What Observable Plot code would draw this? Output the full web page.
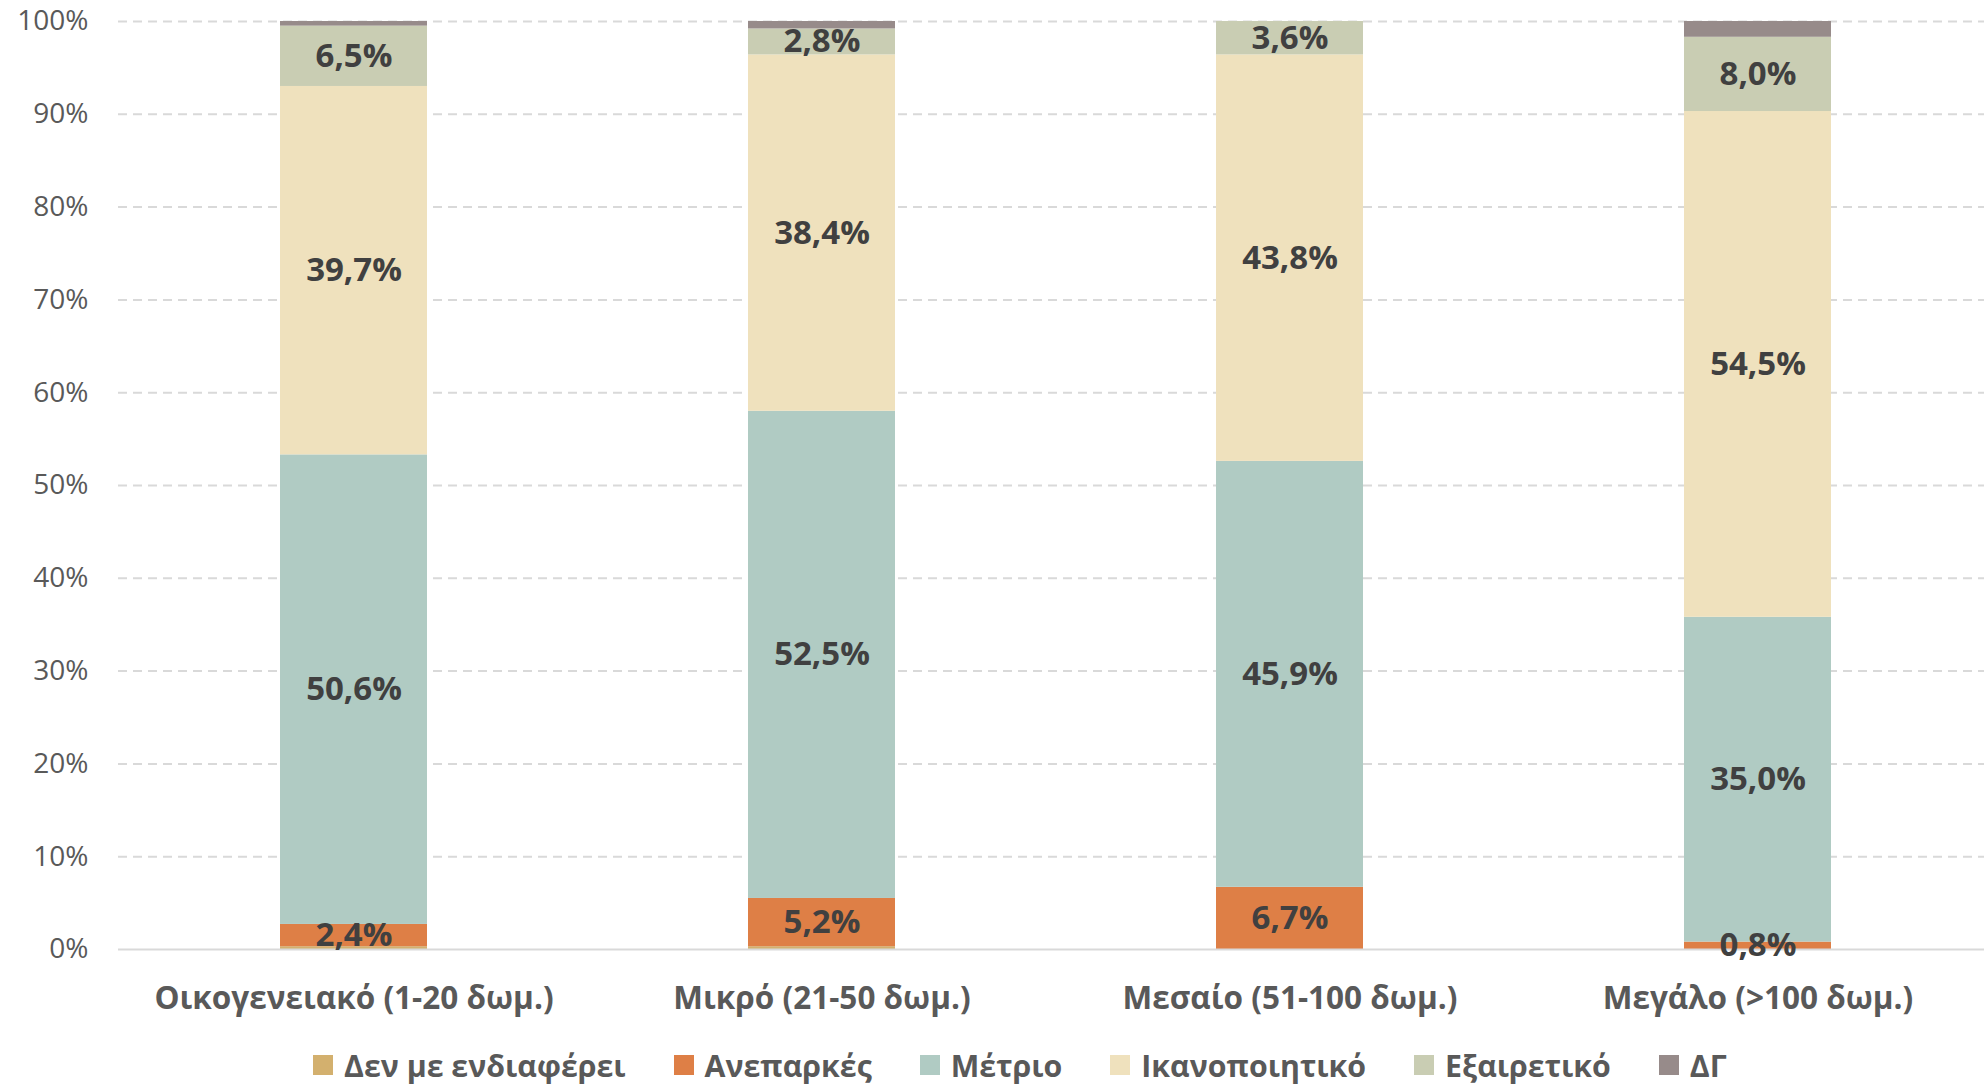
<!DOCTYPE html>
<html>
<head>
<meta charset="utf-8">
<script src="https://cdn.jsdelivr.net/npm/d3@7"></script>
<script src="https://cdn.jsdelivr.net/npm/@observablehq/plot@0.6"></script>
<style>
  html, body { margin: 0; padding: 0; background: #fff; }
  #chart { width: 1984px; overflow: hidden; }
  .legend { display: flex; align-items: center; justify-content: flex-start; padding-left: 313px; gap: 48px; height: 40px;
    font-family: "Open Sans", sans-serif; font-weight: bold; font-size: 30.3px; color: #595959; }
  .legend .item { display: flex; align-items: center; gap: 11px; }
  .legend .sw { width: 20px; height: 20px; display: inline-block; }
</style>
</head>
<body>
<div id="chart"></div>
<script>
const categories = ["Οικογενειακό (1-20 δωμ.)", "Μικρό (21-50 δωμ.)", "Μεσαίο (51-100 δωμ.)", "Μεγάλο (>100 δωμ.)"];
const series = ["Δεν με ενδιαφέρει", "Ανεπαρκές", "Μέτριο", "Ικανοποιητικό", "Εξαιρετικό", "ΔΓ"];
const colors = ["#D3B06E", "#DE7F46", "#B0CBC3", "#EFE1BD", "#C9CDB3", "#978B8A"];
const denMeEndiaferei = [0.3, 0.3, 0.0, 0.0];
const aneparkes = [2.4, 5.2, 6.7, 0.8];
const metrio = [50.6, 52.5, 45.9, 35.0];
const ikanopoiitiko = [39.7, 38.4, 43.8, 54.5];
const exairetiko = [6.5, 2.8, 3.6, 8.0];
const dg = [0.5, 0.8, 0.0, 1.7];
const labelledSeries = ["Ανεπαρκές", "Μέτριο", "Ικανοποιητικό", "Εξαιρετικό"];
const yTicks = [0, 10, 20, 30, 40, 50, 60, 70, 80, 90, 100];

const seriesValues = [denMeEndiaferei, aneparkes, metrio, ikanopoiitiko, exairetiko, dg];
const rows = [];
categories.forEach((c, i) => {
  series.forEach((s, j) => rows.push({cat: c, series: s, value: seriesValues[j][i]}));
});
const fmt = v => v.toFixed(1).replace(".", ",") + "%";

const plot = Plot.plot({
  width: 1984,
  height: 1045,
  marginLeft: 118,
  marginRight: 0,
  marginTop: 21,
  marginBottom: 96,
  style: {fontFamily: "Open Sans, sans-serif", fontSize: "28px", color: "#595959", background: "#fff", overflow: "visible"},
  x: {domain: categories, paddingInner: 0.686, paddingOuter: 0.343, range: [118, 1992], label: null},
  y: {domain: [0, 100], label: null},
  color: {domain: series, range: colors},
  marks: [
    Plot.ruleY(yTicks.filter(d => d > 0), {stroke: "#d9d9d9", strokeWidth: 2, strokeDasharray: "9,6"}),
    Plot.barY(rows, Plot.stackY({x: "cat", y: "value", z: "series", fill: "series", order: series})),
    Plot.ruleY([0], {stroke: "#d9d9d9", strokeWidth: 2}),
    Plot.text(rows, Plot.stackY({
      x: "cat", y: "value", z: "series", order: series,
      text: d => labelledSeries.includes(d.series) ? fmt(d.value) : null,
      fill: "#404040", fontWeight: "bold", fontSize: 33, fontFamily: "Open Sans, sans-serif"
    })),
    Plot.axisY({ticks: yTicks, tickFormat: d => d + "%", tickSize: 0, tickPadding: 30, fontSize: 28, label: null}),
    Plot.axisX({tickSize: 0, tickPadding: 37, fontSize: 31.5, fontWeight: "bold", label: null})
  ]
});
document.getElementById("chart").appendChild(plot);

const legend = document.createElement("div");
legend.className = "legend";
series.forEach((s, i) => {
  const item = document.createElement("div");
  item.className = "item";
  const sw = document.createElement("span");
  sw.className = "sw";
  sw.style.background = colors[i];
  const t = document.createElement("span");
  t.textContent = s;
  item.appendChild(sw);
  item.appendChild(t);
  legend.appendChild(item);
});
document.getElementById("chart").appendChild(legend);
</script>
</body>
</html>
